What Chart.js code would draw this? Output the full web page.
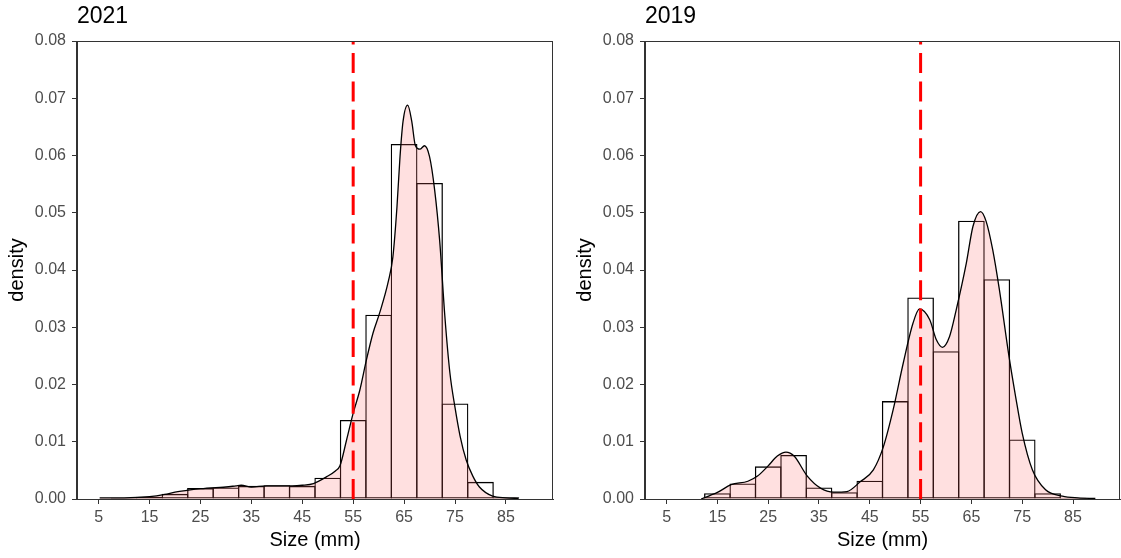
<!DOCTYPE html>
<html>
<head>
<meta charset="utf-8">
<script src="https://cdn.jsdelivr.net/npm/chart.js@4"></script>
<style>
  body { margin: 0; background: #fff; overflow: hidden; }
  .panel { position: absolute; top: 0; }
</style>
</head>
<body>
<div class="panel" style="left:0px"><canvas id="chart2021" width="560" height="558"></canvas></div>
<div class="panel" style="left:568px"><canvas id="chart2019" width="553" height="558"></canvas></div>

<script>
// tick labels
const xTicks = [5, 15, 25, 35, 45, 55, 65, 75, 85];
const yTicks = [0, 0.01, 0.02, 0.03, 0.04, 0.05, 0.06, 0.07, 0.08];
const cutoff = 55; // red dashed line

// 2021 histogram (bin centres, bin width 5)
const bins2021 = [10, 15, 20, 25, 30, 35, 40, 45, 50, 55, 60, 65, 70, 75, 80, 85];
const hist2021 = [0.0002, 0.0004, 0.0009, 0.0019, 0.0020, 0.0023, 0.0024, 0.0023, 0.0037, 0.0138, 0.0322, 0.0620, 0.0552, 0.0167, 0.0030, 0.0003];

// 2021 density curve
const densX2021 = [5.2, 10, 15, 18, 20, 23, 25, 28, 30, 32, 33, 35, 38, 40, 43, 45, 47.2, 49.8, 51.5, 52.4, 53.7, 55, 56.3, 57.6, 58.9, 60.2, 61.9, 62.8, 63.6, 64.2, 64.8, 65.7, 66.5, 67.2, 68.1, 69, 70, 71, 72, 73, 74, 75, 76, 77.2, 78.5, 79.8, 82.4, 85, 87.5];
const densY2021 = [0.0002, 0.0002, 0.0004, 0.0008, 0.0012, 0.0016, 0.0018, 0.0020, 0.0021, 0.0023, 0.0024, 0.0021, 0.0023, 0.0023, 0.0023, 0.0024, 0.0027, 0.0039, 0.0049, 0.0058, 0.0103, 0.0150, 0.0190, 0.0243, 0.0290, 0.0325, 0.0380, 0.0423, 0.0510, 0.0598, 0.0660, 0.0688, 0.0660, 0.0618, 0.0611, 0.0617, 0.0598, 0.0540, 0.0450, 0.0320, 0.0220, 0.0160, 0.0110, 0.0068, 0.0040, 0.0021, 0.0005, 0.0002, 0.0001];

// 2019 histogram
const bins2019 = [15, 20, 25, 30, 35, 40, 45, 50, 55, 60, 65, 70, 75, 80, 85];
const hist2019 = [0.0010, 0.0027, 0.0057, 0.0077, 0.0020, 0.0012, 0.0032, 0.0171, 0.0352, 0.0258, 0.0486, 0.0384, 0.0104, 0.0010, 0.0002];

// 2019 density curve
const densX2019 = [11.8, 13.5, 15.1, 17.7, 21, 22.9, 24.9, 26.8, 28.5, 30.1, 32.7, 35.3, 37.9, 40.5, 43.1, 45.7, 47.7, 49.6, 51.6, 53.5, 54.8, 56.8, 58.1, 59.3, 60.7, 62, 64, 65.3, 66.8, 67.9, 69.2, 70.5, 72.4, 73.7, 75, 77, 79.6, 82.9, 86, 89.4];
const densY2019 = [0.0000, 0.0006, 0.0012, 0.0025, 0.0031, 0.0040, 0.0057, 0.0075, 0.0082, 0.0075, 0.0040, 0.0019, 0.0012, 0.0013, 0.0030, 0.0051, 0.0092, 0.0156, 0.0238, 0.0307, 0.0332, 0.0313, 0.0278, 0.0265, 0.0284, 0.0330, 0.0412, 0.0476, 0.0502, 0.0485, 0.0435, 0.0366, 0.0249, 0.0179, 0.0115, 0.0051, 0.0016, 0.0005, 0.0002, 0.0001];

Chart.defaults.font.family = "'Liberation Sans', Arial, sans-serif";

// box around the plot area
const framePlugin = {
    id: 'frame',
    afterDatasetsDraw(chart) {
        const a = chart.chartArea;
        const ctx = chart.ctx;
        ctx.save();
        ctx.strokeStyle = '#333333';
        ctx.lineWidth = 1;
        ctx.strokeRect(Math.round(a.left) - 0.5, Math.round(a.top) + 0.5, Math.round(a.right - a.left), Math.round(a.bottom - a.top));
        ctx.restore();
    }
};

function makePanel(id, title, bins, hist, densX, densY) {
    const histData = bins.map((b, i) => ({ x: b, y: hist[i] }));
    const densData = densX.map((x, i) => ({ x: x, y: densY[i] }));

    return new Chart(document.getElementById(id), {
        type: 'line',
        data: {
            datasets: [
                {
                    type: 'bar',
                    data: histData,
                    backgroundColor: 'rgba(0,0,0,0)',
                    borderColor: '#000000',
                    borderWidth: 1.3,
                    borderSkipped: false,
                    categoryPercentage: 1,
                    barPercentage: 1.05,
                    order: 2
                },
                {
                    data: densData,
                    borderColor: '#000000',
                    borderWidth: 1.3,
                    backgroundColor: 'rgba(255,102,102,0.2)',
                    fill: 'origin',
                    pointRadius: 0,
                    cubicInterpolationMode: 'monotone',
                    order: 1
                },
                {
                    data: [{ x: cutoff, y: yTicks[0] }, { x: cutoff, y: yTicks[yTicks.length - 1] }],
                    borderColor: '#FF0000',
                    borderWidth: 3,
                    borderDash: [20, 8.4],
                    pointRadius: 0,
                    fill: false,
                    order: 0
                }
            ]
        },
        options: {
            responsive: false,
            animation: false,
            layout: { padding: { left: 0, right: id === 'chart2021' ? 7 : 1, top: 0, bottom: 0 } },
            plugins: {
                legend: { display: false },
                tooltip: { enabled: false },
                title: {
                    display: true,
                    text: title,
                    align: 'start',
                    fullSize: false,
                    color: '#000000',
                    font: { size: 23, weight: 'normal' },
                    padding: { top: 3, bottom: 10.4 }
                }
            },
            scales: {
                x: {
                    type: 'linear',
                    min: 0.75,
                    max: 94.25,
                    offset: false,
                    afterBuildTicks: (s) => { s.ticks = xTicks.map(v => ({ value: v })); },
                    afterFit: (s) => { s.height = 59; },
                    grid: { offset: false, drawOnChartArea: false, tickLength: 5, tickColor: '#333333' },
                    border: { color: '#333333' },
                    ticks: { color: '#4D4D4D', font: { size: 16 }, padding: 4, maxRotation: 0, autoSkip: false },
                    title: { display: true, text: 'Size (mm)', color: '#000000', font: { size: 20 }, padding: { top: 0, bottom: 6 } }
                },
                y: {
                    min: 0,
                    max: 0.08,
                    afterBuildTicks: (s) => { s.ticks = yTicks.map(v => ({ value: v })); },
                    afterFit: (s) => { s.width = 77; },
                    grid: { drawOnChartArea: false, tickLength: 5, tickColor: '#333333' },
                    border: { color: '#333333' },
                    ticks: { color: '#4D4D4D', font: { size: 16 }, padding: 6, callback: (v) => v.toFixed(2) },
                    title: { display: true, text: 'density', color: '#000000', font: { size: 20 }, padding: { top: 5, bottom: 0 } }
                }
            }
        },
        plugins: [framePlugin]
    });
}

makePanel('chart2021', '2021', bins2021, hist2021, densX2021, densY2021);
makePanel('chart2019', '2019', bins2019, hist2019, densX2019, densY2019);
</script>
</body>
</html>
